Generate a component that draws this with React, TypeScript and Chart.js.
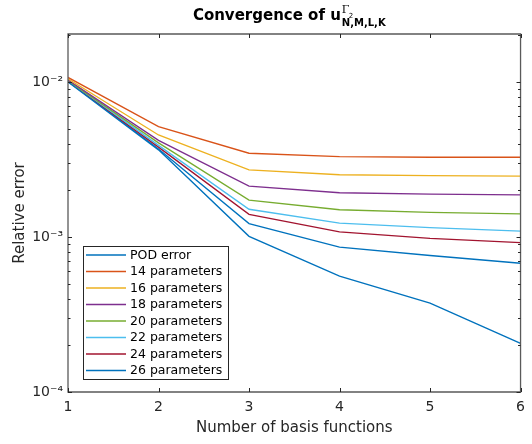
import React, { useEffect, useRef } from "react";
import { Chart, registerables } from "chart.js";

Chart.register(...registerables);

const xValues = [1, 2, 3, 4, 5, 6];
const podError = [1.0e-2, 3.65e-3, 1.01e-3, 5.6e-4, 3.75e-4, 2.06e-4];
const params14 = [1.07e-2, 5.15e-3, 3.47e-3, 3.3e-3, 3.27e-3, 3.27e-3];
const params16 = [1.05e-2, 4.55e-3, 2.71e-3, 2.52e-3, 2.49e-3, 2.47e-3];
const params18 = [1.03e-2, 4.2e-3, 2.13e-3, 1.93e-3, 1.89e-3, 1.87e-3];
const params20 = [1.02e-2, 4.05e-3, 1.73e-3, 1.5e-3, 1.44e-3, 1.41e-3];
const params22 = [1.02e-2, 3.9e-3, 1.51e-3, 1.23e-3, 1.15e-3, 1.09e-3];
const params24 = [1.01e-2, 3.8e-3, 1.4e-3, 1.08e-3, 9.8e-4, 9.2e-4];
const params26 = [1.01e-2, 3.7e-3, 1.22e-3, 8.6e-4, 7.6e-4, 6.77e-4];

const seriesLabels = [
  "POD error",
  "14 parameters",
  "16 parameters",
  "18 parameters",
  "20 parameters",
  "22 parameters",
  "24 parameters",
  "26 parameters",
];
const seriesValues = [podError, params14, params16, params18, params20, params22, params24, params26];
const seriesColors = ["#0072BD", "#D95319", "#EDB120", "#7E2F8E", "#77AC30", "#4DBEEE", "#A2142F", "#0072BD"];

const yTickValues = [1e-4, 1e-3, 1e-2];
const yTickLabels = ["10\u207B\u2074", "10\u207B\u00B3", "10\u207B\u00B2"];
const xTickValues = [1, 2, 3, 4, 5, 6];

const FONT = "'DejaVu Sans', sans-serif";
const AXIS_COLOR = "#262626";

const isDecade = (v: number) => Math.abs(Math.log10(v) - Math.round(Math.log10(v))) < 1e-9;

const axesPlugin = {
  id: "matlabAxes",
  afterDatasetsDraw(chart: any) {
    const { ctx, chartArea } = chart;
    const { left, right, top, bottom } = chartArea;
    const xs = chart.scales.x;
    const ys = chart.scales.y;
    ctx.save();
    ctx.strokeStyle = "#5a5a5a";
    ctx.lineWidth = 1.3;
    ctx.beginPath();
    ctx.rect(left, top, right - left, bottom - top);
    ctx.stroke();
    ctx.strokeStyle = AXIS_COLOR;
    ctx.lineWidth = 1;
    ctx.beginPath();
    for (const v of xTickValues) {
      const px = Math.round(xs.getPixelForValue(v)) + 0.5;
      ctx.moveTo(px, bottom);
      ctx.lineTo(px, bottom - 4);
      ctx.moveTo(px, top);
      ctx.lineTo(px, top + 4);
    }
    for (const t of ys.ticks) {
      const v = t.value;
      const py = Math.round(ys.getPixelForValue(v)) + 0.5;
      const len = isDecade(v) ? 4 : 2.5;
      ctx.moveTo(left, py);
      ctx.lineTo(left + len, py);
      ctx.moveTo(right, py);
      ctx.lineTo(right - len, py);
    }
    ctx.stroke();
    ctx.restore();
  },
  afterDraw(chart: any) {
    const { ctx } = chart;
    ctx.save();
    // Title
    const mainText = "Convergence of u";
    const subText = "N,M,L,K";
    ctx.font = `bold 15px ${FONT}`;
    const wMain = ctx.measureText(mainText).width;
    ctx.font = `bold 10px ${FONT}`;
    const wSub = ctx.measureText(subText).width;
    const total = wMain + wSub + 1;
    const cx = (chart.chartArea.left + chart.chartArea.right) / 2 - 5;
    const x0 = cx - total / 2;
    ctx.fillStyle = "#000";
    ctx.textBaseline = "alphabetic";
    ctx.textAlign = "left";
    ctx.font = `bold 15px ${FONT}`;
    ctx.fillText(mainText, x0, 20);
    ctx.font = `bold 10px ${FONT}`;
    ctx.fillText(subText, x0 + wMain + 1, 26);
    ctx.font = `11px 'DejaVu Serif', serif`;
    ctx.fillText("\u0393", x0 + wMain + 1, 13);
    ctx.font = `7px ${FONT}`;
    ctx.fillText("2", x0 + wMain + 8, 18);

    // Legend
    const lx = 83;
    const ly = 246;
    const lw = 145;
    const rowH = 16.5;
    const lh = rowH * seriesLabels.length + 1;
    ctx.fillStyle = "#ffffff";
    ctx.fillRect(lx, ly, lw, lh);
    ctx.strokeStyle = AXIS_COLOR;
    ctx.lineWidth = 1;
    ctx.strokeRect(lx + 0.5, ly + 0.5, lw, lh);
    ctx.font = `12.5px ${FONT}`;
    ctx.textBaseline = "middle";
    chart.data.datasets.forEach((ds: any, i: number) => {
      const yy = ly + 9 + i * rowH;
      ctx.strokeStyle = ds.borderColor;
      ctx.lineWidth = 1.4;
      ctx.beginPath();
      ctx.moveTo(lx + 3, yy);
      ctx.lineTo(lx + 43, yy);
      ctx.stroke();
      ctx.fillStyle = "#000";
      ctx.fillText(ds.label, lx + 47, yy + 0.5);
    });
    ctx.restore();
  },
};

export default function App() {
  const canvasRef = useRef<HTMLCanvasElement | null>(null);

  useEffect(() => {
    const canvas = canvasRef.current;
    if (!canvas) return;
    const datasets = seriesLabels.map((label, i) => ({
      label,
      data: xValues.map((x, j) => ({ x, y: seriesValues[i][j] })),
      borderColor: seriesColors[i],
      backgroundColor: seriesColors[i],
      borderWidth: 1.35,
      pointRadius: 0,
      fill: false,
      tension: 0,
    }));
    const chart = new Chart(canvas, {
      type: "line",
      data: { datasets },
      options: {
        animation: false,
        responsive: false,
        devicePixelRatio: 1,
        layout: { padding: { top: 34, right: 10, left: 0, bottom: 0 } },
        plugins: {
          legend: { display: false },
          title: { display: false },
          tooltip: { enabled: false },
        },
        scales: {
          x: {
            type: "linear",
            min: 1,
            max: 6,
            grid: { display: false, drawTicks: false },
            border: { display: false },
            afterBuildTicks: (scale: any) => {
              scale.ticks = xTickValues.map((v) => ({ value: v }));
            },
            afterFit: (scale: any) => {
              scale.height = 52;
            },
            ticks: {
              padding: 7,
              color: AXIS_COLOR,
              font: { family: FONT, size: 14 },
              maxRotation: 0,
              autoSkip: false,
              callback: (v: any) => String(v),
            },
            title: {
              display: true,
              text: "Number of basis functions",
              color: AXIS_COLOR,
              font: { family: FONT, size: 15 },
              padding: { top: 0, bottom: 7 },
            },
          },
          y: {
            type: "logarithmic",
            min: 1e-4,
            max: 0.0204,
            grid: { display: false, drawTicks: false },
            border: { display: false },
            afterBuildTicks: (scale: any) => {
              const ticks: any[] = [];
              for (let e = -4; e <= -2; e++) {
                for (let m = 1; m <= 9; m++) {
                  const v = m * Math.pow(10, e);
                  if (v <= 0.0204 + 1e-12) ticks.push({ value: v });
                }
              }
              scale.ticks = ticks;
            },
            afterFit: (scale: any) => {
              scale.width = 68;
            },
            ticks: {
              padding: 5,
              color: AXIS_COLOR,
              font: { family: FONT, size: 14 },
              autoSkip: false,
              callback: (v: any) => {
                const idx = yTickValues.findIndex((t) => Math.abs(Math.log10(t) - Math.log10(Number(v))) < 1e-9);
                return idx >= 0 ? yTickLabels[idx] : "";
              },
            },
            title: {
              display: true,
              text: "Relative error",
              color: AXIS_COLOR,
              font: { family: FONT, size: 15 },
              padding: { top: 11, bottom: 0 },
            },
          },
        },
      },
      plugins: [axesPlugin],
    } as any);
    return () => chart.destroy();
  }, []);

  return (
    <div style={{ position: "fixed", left: 0, top: 0, width: 532, height: 444, background: "#fff" }}>
      <canvas ref={canvasRef} width={532} height={444} style={{ display: "block" }} />
    </div>
  );
}
